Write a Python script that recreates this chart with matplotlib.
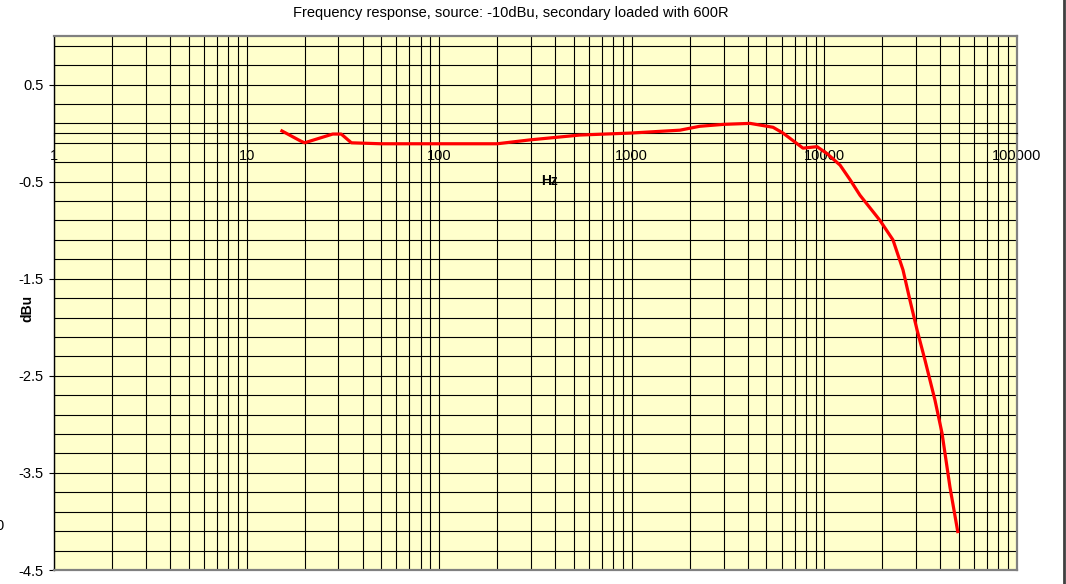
import numpy as np
import matplotlib
matplotlib.use('Agg')
import matplotlib.pyplot as plt

plt.rcParams['font.family'] = ['Liberation Sans', 'DejaVu Sans']

freq = [15, 19, 20, 28, 31, 35, 50, 100, 200, 296, 538, 979, 1780, 2250, 3000,
        4110, 5410, 6100, 7740, 9160, 10300, 12060, 13590, 15300, 19440, 22700,
        25600, 27800, 30300, 33300, 37500, 40800, 44900, 49400]
dbu = [0.03, -0.08, -0.10, -0.01, -0.01, -0.10, -0.11, -0.11, -0.11, -0.07, -0.02,
       0.0, 0.03, 0.07, 0.09, 0.10, 0.06, 0.0, -0.155, -0.14, -0.21, -0.33, -0.48,
       -0.64, -0.90, -1.10, -1.41, -1.72, -2.03, -2.34, -2.75, -3.09, -3.65, -4.12]

x_ticks = [1, 10, 100, 1000, 10000, 100000]
x_labels = ['1', '10', '100', '1000', '10000', '100000']
y_ticks = [0.5, -0.5, -1.5, -2.5, -3.5, -4.5]

fig = plt.figure(figsize=(10.66, 5.84), dpi=100)
ax = fig.add_axes([54 / 1066, 1 - 570 / 584, (1017 - 54) / 1066, (570 - 36) / 584])
ax.set_facecolor('#FFFFCC')

ax.set_xscale('log')
ax.set_xlim(1, 100000)
ax.set_ylim(-4.5, 1.0)

# grid: every 0.2 dBu, every log minor step
for y in np.arange(-4.5, 0.95, 0.2):
    ax.axhline(y, color='black', lw=0.8, zorder=1)
for dec in [1, 10, 100, 1000, 10000]:
    for m in range(1, 10):
        ax.axvline(dec * m, color='black', lw=0.8, zorder=1)
ax.axhline(-4.5, color='#808080', lw=1.6, zorder=3, clip_on=False)

ax.plot(freq, dbu, color='#FF0000', lw=2.3, zorder=4, solid_capstyle='butt')

ax.spines['bottom'].set_position(('data', 0))
ax.spines['bottom'].set_color('black')
ax.spines['bottom'].set_linewidth(0.8)
ax.spines['left'].set_color('black')
ax.spines['left'].set_linewidth(1.0)
for s in ['top', 'right']:
    ax.spines[s].set_color('#808080')
    ax.spines[s].set_linewidth(1.6)

ax.set_xticks(x_ticks)
ax.set_xticklabels(x_labels)
ax.xaxis.set_minor_locator(matplotlib.ticker.NullLocator())
ax.tick_params(axis='x', direction='out', length=2.5, width=0.8, pad=9, labelsize=10.5)
ax.set_yticks(y_ticks)
ax.set_yticklabels([str(v) for v in y_ticks])
ax.tick_params(axis='y', direction='out', length=3.5, width=0.8, pad=4, labelsize=10.5)

fig.text(549 / 1066, 1 - 181 / 584, 'Hz', ha='center', va='center', fontsize=10, fontweight='bold')
fig.text(27 / 1066, 1 - 308 / 584, 'dBu', ha='center', va='center', rotation=90,
         fontsize=10, fontweight='bold')
fig.text(511 / 1066, 1 - 13 / 584, 'Frequency response, source: -10dBu, secondary loaded with 600R',
         ha='center', va='center', fontsize=10.5)
fig.text(4 / 1066, 1 - 526 / 584, '0', ha='right', va='center', fontsize=10.5)

# right-hand frame edge
fig.add_artist(plt.Line2D([1064 / 1066, 1064 / 1066], [0, 1], color='#404040', lw=2))

plt.savefig('out.png', dpi=100)
